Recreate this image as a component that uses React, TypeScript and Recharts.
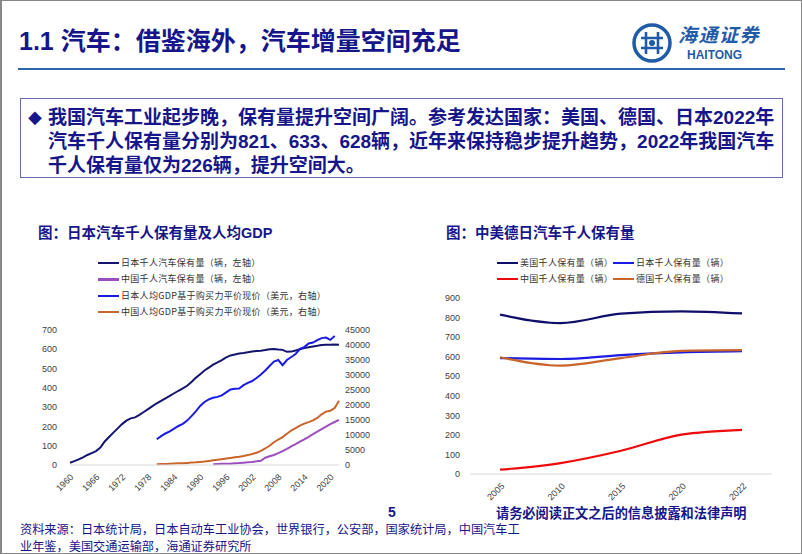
import React from 'react';
import { LineChart, Line, XAxis, YAxis } from 'recharts';

// ---- left chart: Japan per-thousand cars & GDP per capita (PPP)
const years = Array.from({ length: 63 }, (_, i) => 1960 + i);

const jpCars = [
  12, 20, 29, 40, 52, 62, 72, 90, 122, 145,
  168, 190, 212, 230, 242, 247, 260, 275, 290, 305,
  320, 333, 346, 359, 372, 385, 397, 411, 430, 452,
  471, 490, 505, 520, 532, 544, 558, 568, 573, 578,
  581, 585, 589, 591, 593, 596, 600, 602, 599, 597,
  587, 588, 594, 600, 606, 611, 615, 618, 622, 624,
  624, 625, 624,
];

// 1993 onwards
const cnCars = [
  4, 5, 6, 6, 7, 9, 10, 12, 14, 16,
  19, 22, 38, 45, 52, 62, 72, 84, 97, 108,
  121, 133, 146, 160, 173, 186, 199, 212, 223, 234,
];

// 1980 - 2021
const jpGdp = [
  8600, 9600, 10500, 11200, 12100, 13000, 13700, 14800, 16300, 17900,
  19700, 21000, 21900, 22400, 22700, 23200, 24200, 25200, 25400, 25500,
  26600, 27400, 28000, 29000, 30200, 31500, 33000, 34500, 35000, 33300,
  35000, 36000, 37000, 38700, 39300, 40500, 40800, 41600, 42300, 42500,
  41700, 43000,
];

// 1980 - 2022
const cnGdp = [
  250, 300, 350, 400, 480, 560, 620, 700, 800, 880,
  1000, 1150, 1350, 1550, 1750, 1950, 2150, 2350, 2550, 2750,
  3000, 3300, 3650, 4100, 4700, 5500, 6400, 7600, 8500, 9300,
  10400, 11500, 12300, 13100, 13800, 14300, 14900, 15700, 16900, 17800,
  18100, 19000, 21400,
];

const leftTicks = [0, 100, 200, 300, 400, 500, 600, 700];
const rightTicks = [0, 5000, 10000, 15000, 20000, 25000, 30000, 35000, 40000, 45000];

const jpData = years.map((y, i) => ({
  year: y,
  jpCars: jpCars[i],
  cnCars: y >= 1993 ? cnCars[y - 1993] : null,
  jpGdp: y >= 1980 && y <= 2021 ? jpGdp[y - 1980] : null,
  cnGdp: y >= 1980 ? cnGdp[y - 1980] : null,
}));

const jpSeries = [
  { key: 'jpCars', name: '日本千人汽车保有量（辆，左轴）', color: '#14146e', axis: 'l' },
  { key: 'cnCars', name: '中国千人汽车保有量（辆，左轴）', color: '#9b4fbf', axis: 'l' },
  { key: 'jpGdp', name: '日本人均GDP基于购买力平价现价（美元，右轴）', color: '#1a1ae6', axis: 'r' },
  { key: 'cnGdp', name: '中国人均GDP基于购买力平价现价（美元，右轴）', color: '#c9652b', axis: 'r' },
];

// ---- right chart: cars per thousand people
const ownYears = ['2005', '2010', '2015', '2020', '2022'];
const usOwn = [815, 772, 820, 832, 821];
const jpOwn = [593, 588, 608, 622, 628];
const cnOwn = [22, 56, 119, 201, 226];
const deOwn = [597, 554, 593, 630, 633];
const ownTicks = [0, 100, 200, 300, 400, 500, 600, 700, 800, 900];

const ownData = ownYears.map((y, i) => ({
  year: y, us: usOwn[i], jp: jpOwn[i], cn: cnOwn[i], de: deOwn[i],
}));

const ownSeries = [
  { key: 'us', name: '美国千人保有量（辆）', color: '#0f0f6b' },
  { key: 'jp', name: '日本千人保有量（辆）', color: '#1c1ce0' },
  { key: 'cn', name: '中国千人保有量（辆）', color: '#ee0a0a' },
  { key: 'de', name: '德国千人保有量（辆）', color: '#c9652b' },
];

const NAVY = '#16168a';
const SANS = '"Liberation Sans", Arial, "Noto Sans CJK SC", sans-serif';
const CJK = '"Noto Sans CJK SC", "Liberation Sans", sans-serif';
const tickStyle = { fontSize: 9, fill: '#404040', fontFamily: SANS };

const makeXTick = (dx: number) => (props: any) => {
  const { x, y, payload } = props;
  const tx = x + dx;
  const ty = y + 4.6;
  return (
    <text x={tx} y={ty} textAnchor="end" transform={`rotate(-45 ${tx} ${ty})`} {...tickStyle}>
      {payload.value}
    </text>
  );
};

function LegendRow({ color, name, left, top }: { color: string; name: string; left: number; top: number }) {
  return (
    <div style={{ position: 'absolute', left, top, height: 12, display: 'flex', alignItems: 'center', whiteSpace: 'nowrap' }}>
      <div style={{ width: 21, height: 2.5, background: color, marginRight: 2 }} />
      <span style={{ fontFamily: CJK, fontSize: 9, color: '#333', letterSpacing: 0.3, lineHeight: '12px' }}>{name}</span>
    </div>
  );
}

function Logo() {
  const c = '#1f5ba6';
  return (
    <div style={{ position: 'absolute', left: 628, top: 20 }}>
      <svg width={44} height={44}>
        <circle cx={22} cy={22} r={18} fill="none" stroke={c} strokeWidth={3.5} />
        <path d="M16 11 V33 M28 11 V33 M11 17 H33 M11 27 H33" stroke={c} strokeWidth={2.6} fill="none" />
        <circle cx={22} cy={22} r={3} fill={c} />
      </svg>
      <div style={{ position: 'absolute', left: 48, top: 3, fontFamily: CJK, fontStyle: 'italic', fontWeight: 700, fontSize: 19, color: c, whiteSpace: 'nowrap', letterSpacing: 1.5, lineHeight: '20px' }}>
        海通证券
      </div>
      <div style={{ position: 'absolute', left: 57, top: 28, fontFamily: SANS, fontWeight: 700, fontSize: 12, color: c, lineHeight: '13px' }}>
        HAITONG
      </div>
    </div>
  );
}

export default function App() {
  const boxLines = [
    '我国汽车工业起步晚，保有量提升空间广阔。参考发达国家：美国、德国、日本2022年',
    '汽车千人保有量分别为821、633、628辆，近年来保持稳步提升趋势，2022年我国汽车',
    '千人保有量仅为226辆，提升空间大。',
  ];
  const sourceLines = [
    '资料来源：日本统计局，日本自动车工业协会，世界银行，公安部，国家统计局，中国汽车工',
    '业年鉴，美国交通运输部，海通证券研究所',
  ];
  return (
    <div style={{ position: 'absolute', left: 0, top: 0, width: 802, height: 554, background: '#fff', overflow: 'hidden', boxSizing: 'border-box', border: '1px solid #888', borderLeftWidth: 2 }}>
      <div style={{ position: 'absolute', left: 0, top: 0, width: 802, height: 554 }}>
        {/* header */}
        <div style={{ position: 'absolute', left: 17, top: 25, fontFamily: SANS, fontWeight: 700, fontSize: 25, color: NAVY, whiteSpace: 'nowrap', lineHeight: '30px' }}>
          1.1 汽车：借鉴海外，汽车增量空间充足
        </div>
        <Logo />
        <div style={{ position: 'absolute', left: 16, top: 67, width: 767, height: 2, background: '#2c66ad' }} />

        {/* summary box */}
        <div style={{ position: 'absolute', left: 18, top: 97, width: 763, height: 80, border: '1px solid #6a6aae', boxSizing: 'border-box' }} />
        <div style={{ position: 'absolute', left: 26, top: 104, fontSize: 18, color: NAVY, lineHeight: '24px' }}>◆</div>
        {boxLines.map((t, i) => (
          <div key={i} style={{ position: 'absolute', left: 46, top: 105 + i * 24, fontFamily: SANS, fontWeight: 700, fontSize: 19, color: NAVY, whiteSpace: 'nowrap', lineHeight: '24px' }}>
            {t}
          </div>
        ))}

        {/* chart titles */}
        <div style={{ position: 'absolute', left: 36, top: 223, fontFamily: SANS, fontWeight: 700, fontSize: 14.5, color: NAVY, whiteSpace: 'nowrap', lineHeight: '18px' }}>
          图：日本汽车千人保有量及人均GDP
        </div>
        <div style={{ position: 'absolute', left: 444, top: 223, fontFamily: SANS, fontWeight: 700, fontSize: 14.5, color: NAVY, whiteSpace: 'nowrap', lineHeight: '18px' }}>
          图：中美德日汽车千人保有量
        </div>

        {/* left legend */}
        {jpSeries.map((s, i) => (
          <LegendRow key={s.key} color={s.color} name={s.name} left={96} top={256 + i * 16.4} />
        ))}

        {/* right legend */}
        {ownSeries.map((s, i) => (
          <LegendRow key={s.key} color={s.color} name={s.name} left={i % 2 === 0 ? 495 : 611} top={256 + Math.floor(i / 2) * 16} />
        ))}

        {/* left chart */}
        <div style={{ position: 'absolute', left: 0, top: 300 }}>
          <LineChart width={400} height={200} data={jpData} margin={{ top: 29, right: 15, left: 8, bottom: 0 }}>
            <XAxis
              dataKey="year"
              interval={5}
              tickLine={false}
              axisLine={{ stroke: '#d9d9d9' }}
              height={36}
              tick={makeXTick(4)}
            />
            <YAxis yAxisId="l" width={60} domain={[0, 700]} ticks={leftTicks} interval={0} axisLine={false} tickLine={false} tickMargin={7} tick={tickStyle} />
            <YAxis yAxisId="r" orientation="right" width={48} domain={[0, 45000]} ticks={rightTicks} interval={0} axisLine={false} tickLine={false} tickMargin={0} tick={{ ...tickStyle, textAnchor: 'start' }} />
            {jpSeries.map((s) => (
              <Line key={s.key} yAxisId={s.axis} dataKey={s.key} name={s.name} stroke={s.color} strokeWidth={2} dot={false} type="linear" isAnimationActive={false} />
            ))}
          </LineChart>
        </div>

        {/* right chart */}
        <div style={{ position: 'absolute', left: 430, top: 280 }}>
          <LineChart width={372} height={250} data={ownData} margin={{ top: 17, right: 32, left: 0, bottom: 0 }}>
            <XAxis
              dataKey="year"
              padding={{ left: 30, right: 30 }}
              tickLine={false}
              axisLine={{ stroke: '#d9d9d9' }}
              height={57}
              interval={0}
              tick={makeXTick(5)}
            />
            <YAxis width={38} domain={[0, 900]} ticks={ownTicks} interval={0} axisLine={false} tickLine={false} tickMargin={4} tick={tickStyle} />
            {ownSeries.map((s) => (
              <Line key={s.key} dataKey={s.key} name={s.name} stroke={s.color} strokeWidth={2.2} dot={false} type="monotone" isAnimationActive={false} />
            ))}
          </LineChart>
        </div>

        {/* footer */}
        <div style={{ position: 'absolute', left: 386, top: 503, fontFamily: SANS, fontWeight: 700, fontSize: 14, color: NAVY, lineHeight: '17px' }}>5</div>
        <div style={{ position: 'absolute', left: 494, top: 503, fontFamily: CJK, fontWeight: 700, fontSize: 13.2, color: NAVY, whiteSpace: 'nowrap', lineHeight: '17px' }}>
          请务必阅读正文之后的信息披露和法律声明
        </div>
        {sourceLines.map((t, i) => (
          <div key={i} style={{ position: 'absolute', left: 18, top: 521 + i * 16.5, fontFamily: CJK, fontSize: 12.2, color: NAVY, lineHeight: '15px', whiteSpace: 'nowrap' }}>
            {t}
          </div>
        ))}
      </div>
    </div>
  );
}
